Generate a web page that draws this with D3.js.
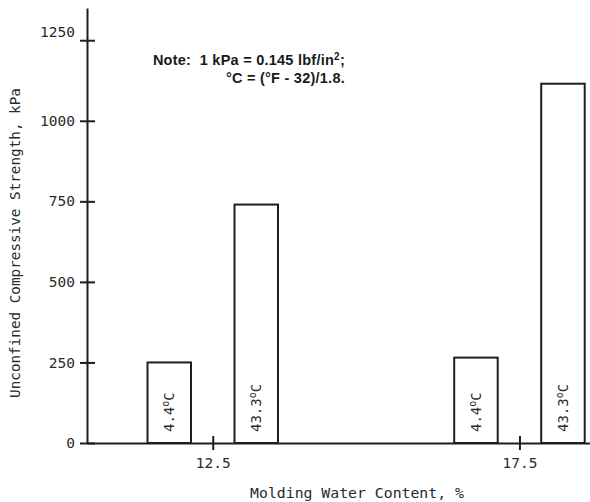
<!DOCTYPE html>
<html>
<head>
<meta charset="utf-8">
<script src="https://cdn.jsdelivr.net/npm/d3@7"></script>
<style>
  html, body { margin: 0; padding: 0; background: #fff; }
  svg { display: block; }
  .mono { font-family: "DejaVu Sans Mono", "Liberation Mono", monospace; fill: #2a2a2a; }
</style>
</head>
<body>
<svg id="chart" width="590" height="502"></svg>
<script>
// Water contents (x categories), curing temperatures and strengths (kPa)
const waterContents = [12.5, 17.5];
const temperatures = ["4.4", "43.3"];
const strength44 = [250, 265];
const strength433 = [740, 1115];
const yTickValues = [0, 250, 500, 750, 1000, 1250];
const xTickLabels = ["12.5", "17.5"];

const bars = [];
waterContents.forEach((w, i) => {
  bars.push({ w, temp: temperatures[0], value: strength44[i] });
  bars.push({ w, temp: temperatures[1], value: strength433[i] });
});

const svg = d3.select("#chart");
const ink = "#1e1e1e";

const x = d3.scaleLinear().domain([10.45, 18.65]).range([87, 590]);
const y = d3.scaleLinear().domain([0, 1350]).range([443, 8]);
// offset of each temperature bar around its water-content position
const sub = d3.scaleBand().domain(temperatures).range([-87, 87])
  .paddingInner(0.5).paddingOuter(0.25);

// bars
svg.append("g").selectAll("rect").data(bars).join("rect")
  .attr("x", d => x(d.w) + sub(d.temp))
  .attr("y", d => y(d.value))
  .attr("width", sub.bandwidth())
  .attr("height", d => y(0) - y(d.value))
  .attr("fill", "none")
  .attr("stroke", ink)
  .attr("stroke-width", 2);

// temperature labels inside bars, reading upward
const lbl = svg.append("g").selectAll("text").data(bars).join("text")
  .attr("class", "mono")
  .attr("font-size", 14)
  .attr("transform", d => `translate(${x(d.w) + sub(d.temp) + sub.bandwidth() / 2 + 5},${y(0) - 11}) rotate(-90)`)
  .attr("text-anchor", "start");
lbl.append("tspan").text(d => d.temp);
lbl.append("tspan").attr("font-size", 10).attr("dy", -5).text("o");
lbl.append("tspan").attr("dy", 5).text("C");

// y axis
const yAxis = svg.append("g")
  .attr("transform", `translate(${x.range()[0]},0)`)
  .call(d3.axisLeft(y).tickValues(yTickValues).tickSize(7).tickSizeOuter(0).tickPadding(5).tickFormat(d3.format("d")));
yAxis.selectAll(".tick line").attr("x1", 8);
yAxis.selectAll(".tick text").attr("class", "mono").attr("font-size", 14.5)
  .attr("dy", d => d === 1250 ? "-0.25em" : "0.32em");

// x axis
const xAxis = svg.append("g")
  .attr("transform", `translate(0,${y(0)})`)
  .call(d3.axisBottom(x).tickValues(waterContents).tickSize(7).tickSizeOuter(0).tickPadding(8)
    .tickFormat((d, i) => xTickLabels[i]));
xAxis.selectAll(".tick line").attr("y1", -7);
xAxis.selectAll(".tick text").attr("class", "mono").attr("font-size", 14.5);

svg.selectAll(".domain, .tick line").attr("stroke", ink).attr("stroke-width", 2);

// axis titles
svg.append("text").attr("class", "mono")
  .attr("font-size", 14.3)
  .attr("text-anchor", "middle")
  .attr("transform", "translate(20,243) rotate(-90)")
  .text("Unconfined Compressive Strength, kPa");

svg.append("text").attr("class", "mono")
  .attr("font-size", 14.8)
  .attr("text-anchor", "middle")
  .attr("x", 357).attr("y", 498)
  .text("Molding Water Content, %");

// unit note
const note = svg.append("g")
  .attr("font-family", "'Liberation Sans', Arial, sans-serif")
  .attr("font-weight", "bold")
  .attr("font-size", 14.5)
  .attr("letter-spacing", 0.25)
  .attr("fill", "#1a1a1a")
  .attr("text-anchor", "end");
const n1 = note.append("text").attr("x", 345).attr("y", 65);
n1.append("tspan").text("Note:\u00A0 1 kPa = 0.145 lbf/in");
n1.append("tspan").attr("font-size", 10).attr("dy", -5).text("2");
n1.append("tspan").attr("dy", 5).text(";");
note.append("text").attr("x", 345).attr("y", 83)
  .text("\u00B0C = (\u00B0F - 32)/1.8.");
</script>
</body>
</html>
